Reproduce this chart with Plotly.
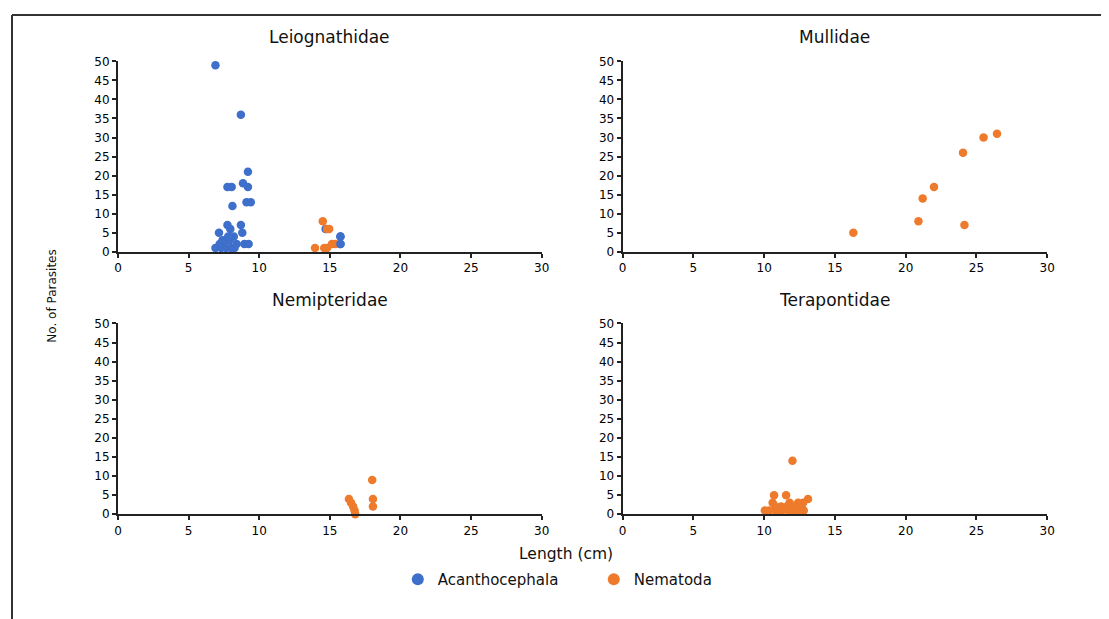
import plotly.graph_objects as go

# ---------------- data ----------------
panels = ["Leiognathidae", "Mullidae", "Nemipteridae", "Terapontidae"]

# Leiognathidae
leio_acan_len = [6.9, 8.7, 9.2, 8.85, 9.2, 7.75, 8.05, 8.1, 9.1, 9.4, 7.75, 8.7, 7.95,
                 7.15, 8.8, 7.4, 8.2, 8.95, 9.25, 6.9, 7.3, 7.65, 8.0, 8.25, 7.6, 7.9,
                 7.5, 8.4, 7.2, 7.8, 14.7, 15.75, 15.75]
leio_acan_par = [49, 36, 21, 18, 17, 17, 17, 12, 13, 13, 7, 7, 6,
                 5, 5, 3, 4, 2, 2, 1, 1, 1, 1, 1, 3, 3,
                 2, 2, 2, 4, 6, 4, 2]
leio_nema_len = [14.5, 14.8, 14.95, 13.95, 14.6, 14.8, 15.15, 15.4]
leio_nema_par = [8, 6, 6, 1, 1, 1, 2, 2]

# Mullidae
mull_nema_len = [16.3, 20.9, 21.2, 22.0, 24.05, 24.15, 25.5, 26.45]
mull_nema_par = [5, 8, 14, 17, 26, 7, 30, 31]

# Nemipteridae
nemi_nema_len = [18.0, 18.05, 18.05, 16.35, 16.5, 16.65, 16.75, 16.8]
nemi_nema_par = [9, 4, 2, 4, 3, 2, 1, 0]

# Terapontidae
tera_nema_len = [12.0, 10.7, 11.55, 13.1, 10.6, 11.8, 12.4, 12.75, 12.65, 10.8, 11.2,
                 11.6, 10.05, 10.35, 10.8, 11.25, 11.7, 12.1, 12.8, 11.0, 12.2, 12.5]
tera_nema_par = [14, 5, 5, 4, 3, 3, 3, 3, 2, 2, 2,
                 2, 1, 1, 1, 1, 1, 1, 1, 1, 2, 1]

series_names = ["Acanthocephala", "Nematoda"]
x_ticks = [0, 5, 10, 15, 20, 25, 30]
y_ticks = [0, 5, 10, 15, 20, 25, 30, 35, 40, 45, 50]

BLUE = "#3d6fcb"
ORANGE = "#ee7a2c"
FONT = "DejaVu Sans"

W, H = 1109, 620


# map a target position in the photographed window to figure pixels
def fx(x):
    return x / 0.99 - 11.0


def fy(y):
    return y / 0.981 - 14.7


def px(x):
    return fx(x) / W


def py(y):
    return 1 - fy(y) / H


# panel boxes in window coordinates: (x0, x1, ybottom, ytop)
boxes = {
    1: (117, 541, 252, 61),
    2: (622, 1047, 252, 61),
    3: (117, 541, 515.5, 324),
    4: (622, 1047, 515.5, 324),
}

fig = go.Figure()


def add(xs, ys, color, name, idx, show):
    sfx = "" if idx == 1 else str(idx)
    fig.add_trace(go.Scatter(
        x=xs, y=ys, mode="markers", name=name, legendgroup=name, showlegend=show,
        marker=dict(color=color, size=8.5, line=dict(width=0)),
        xaxis="x" + sfx, yaxis="y" + sfx, cliponaxis=False))


add(leio_acan_len, leio_acan_par, BLUE, series_names[0], 1, True)
add(leio_nema_len, leio_nema_par, ORANGE, series_names[1], 1, True)
# blue points that sit in front of orange in the 15 cm cluster
add(leio_acan_len[-2:], leio_acan_par[-2:], BLUE, series_names[0], 1, False)
add(mull_nema_len, mull_nema_par, ORANGE, series_names[1], 2, False)
add(nemi_nema_len, nemi_nema_par, ORANGE, series_names[1], 3, False)
add(tera_nema_len, tera_nema_par, ORANGE, series_names[1], 4, False)

layout = dict(
    width=W, height=H,
    margin=dict(l=0, r=0, t=0, b=0),
    paper_bgcolor="white", plot_bgcolor="white",
    font=dict(family=FONT, color="#111", size=11),
    showlegend=True,
    legend=dict(orientation="h", x=(fx(418) - 21.2) / W, xanchor="left",
                y=1 - (fy(578) + 3) / H, yanchor="middle",
                font=dict(family=FONT, size=15, color="#111"),
                entrywidth=151, entrywidthmode="pixels", itemsizing="constant",
                bgcolor="rgba(0,0,0,0)", borderwidth=0),
)

annotations = []
for i, (x0, x1, yb, yt) in boxes.items():
    sfx = "" if i == 1 else str(i)
    layout["xaxis" + sfx] = dict(
        domain=[px(x0), px(x1)], anchor="y" + sfx, range=[0, 30],
        tickvals=x_ticks, ticks="outside", ticklen=4, tickwidth=1.5, tickcolor="#222",
        showline=True, linecolor="#222", linewidth=2, showgrid=False, zeroline=False,
        tickfont=dict(family=FONT, size=12, color="#000"), fixedrange=True)
    layout["yaxis" + sfx] = dict(
        domain=[py(yb), py(yt)], anchor="x" + sfx, range=[0, 50],
        tickvals=y_ticks, ticks="outside", ticklen=4, tickwidth=1.5, tickcolor="#222",
        showline=True, linecolor="#222", linewidth=2, showgrid=False, zeroline=False,
        tickfont=dict(family=FONT, size=12, color="#000"), fixedrange=True)
    annotations.append(dict(
        text=panels[i - 1], x=px((x0 + x1) / 2), y=py(yt - 24),
        xref="paper", yref="paper", showarrow=False, xanchor="center", yanchor="middle",
        font=dict(family=FONT, size=17, color="#111")))

annotations.append(dict(text="No. of Parasites", x=px(50), y=py(297), xref="paper", yref="paper",
                        showarrow=False, textangle=-90, xanchor="center", yanchor="middle",
                        font=dict(family=FONT, size=12, color="#111")))
annotations.append(dict(text="Length (cm)", x=px(565), y=py(555), xref="paper", yref="paper",
                        showarrow=False, xanchor="center", yanchor="middle",
                        font=dict(family=FONT, size=15.5, color="#111")))
layout["annotations"] = annotations

layout["shapes"] = [
    dict(type="line", xref="paper", yref="paper", x0=0, x1=1, y0=1, y1=1,
         line=dict(color="#333", width=2)),
    dict(type="line", xref="paper", yref="paper", x0=0, x1=0, y0=0, y1=1,
         line=dict(color="#333", width=2)),
]

fig.update_layout(**layout)
fig.write_html("out.html")
